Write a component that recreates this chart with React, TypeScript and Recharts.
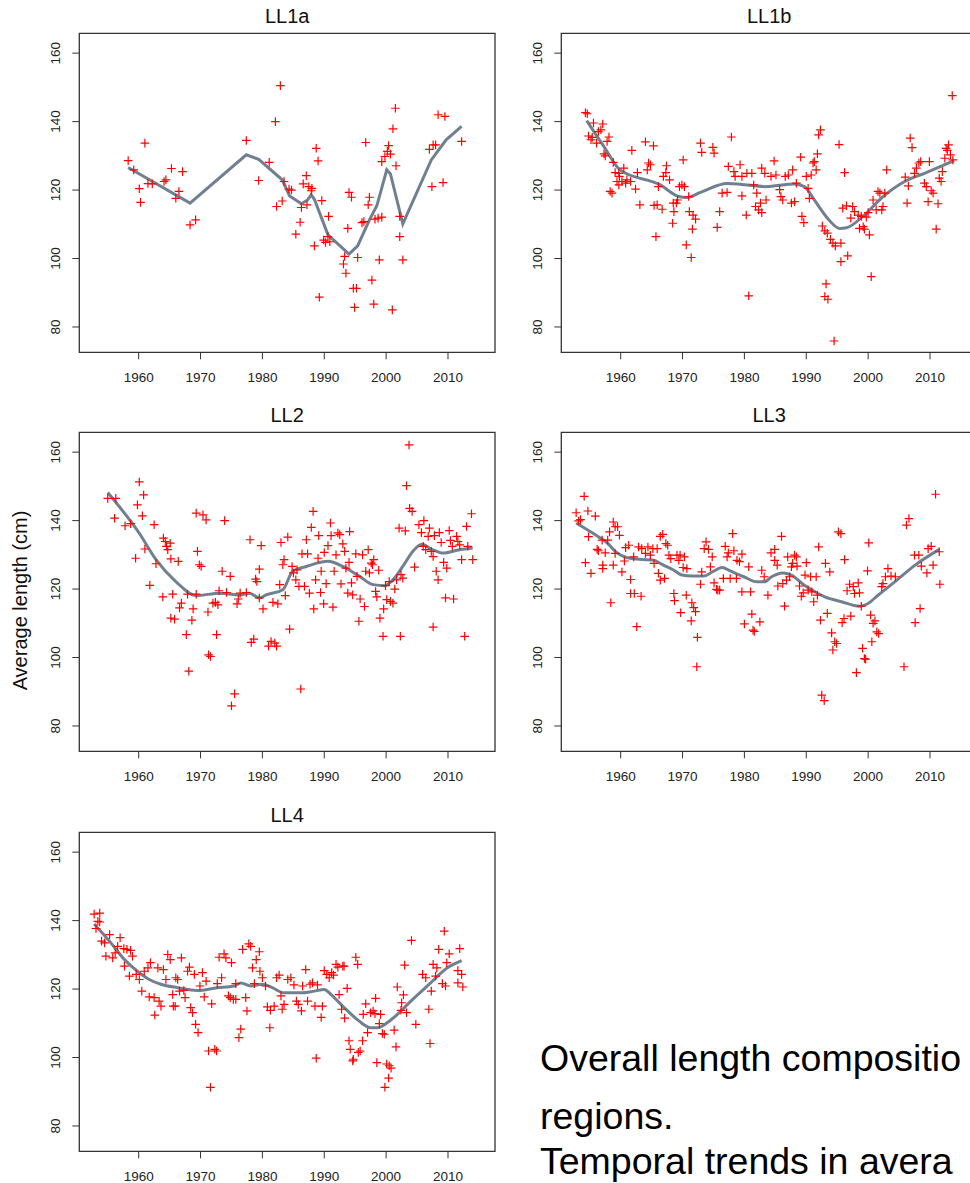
import React from "react";
import {
  ComposedChart,
  Scatter,
  Line,
  XAxis,
  YAxis,
  ReferenceArea,
} from "recharts";

// shared axes (R style, 4% padding around the data range)
const xTicks = [1960, 1970, 1980, 1990, 2000, 2010];
const yTicks = [80, 100, 120, 140, 160];
const xDomain: [number, number] = [1950.4, 2017.6];
const yDomain: [number, number] = [72.6, 165.8];

type Pt = [number, number];

const ll1aPoints: Pt[] = [
  [1958.3, 128.6], [1959.2, 125.9], [1961.0, 133.7], [1960.1, 120.4], [1960.3, 116.4],
  [1961.5, 121.9], [1962.2, 121.8], [1964.1, 122.5], [1964.4, 123.0], [1965.3, 126.3],
  [1966.5, 119.6], [1966.0, 117.6], [1967.1, 125.4], [1968.3, 109.8], [1969.2, 111.3],
  [1977.4, 134.5], [1979.4, 122.8], [1981.1, 128.1], [1982.1, 140.0], [1982.9, 150.5],
  [1982.3, 115.2], [1983.2, 116.8], [1983.5, 122.5], [1984.3, 120.3], [1984.7, 120.0],
  [1985.4, 107.1], [1986.1, 110.6], [1986.3, 114.9], [1986.6, 121.8], [1987.1, 124.2],
  [1987.2, 115.7], [1987.5, 121.0], [1987.9, 119.8], [1988.0, 120.5], [1988.4, 103.7],
  [1988.7, 132.2], [1989.0, 128.5], [1989.2, 88.7], [1989.6, 116.9], [1989.9, 105.4],
  [1990.2, 104.7], [1990.6, 106.4], [1990.7, 112.3], [1990.9, 104.9], [1993.3, 100.6],
  [1993.1, 98.4], [1993.5, 95.7], [1993.8, 108.8], [1994.0, 119.3], [1994.4, 117.9],
  [1994.7, 91.3], [1995.2, 91.3], [1994.9, 85.7], [1995.4, 100.3], [1996.1, 110.5],
  [1996.4, 110.8], [1996.7, 133.9], [1997.1, 115.7], [1997.3, 117.9], [1997.7, 93.7],
  [1998.0, 86.7], [1998.2, 111.5], [1998.7, 111.8], [1998.9, 99.6], [1999.3, 128.3],
  [1999.3, 112.1], [1999.8, 129.8], [2000.2, 131.3], [2000.4, 133.0], [2000.7, 130.5],
  [2001.0, 85.0], [2001.1, 137.9], [2001.5, 143.9], [2001.6, 127.1], [2002.2, 112.3],
  [2002.2, 106.4], [2002.7, 99.6], [2007.0, 131.9], [2007.4, 121.0], [2007.6, 133.2],
  [2008.0, 133.2], [2008.4, 142.0], [2009.2, 122.2], [2009.5, 141.5], [2012.2, 134.2],
];

const ll1aTrend: Pt[] = [
  [1958.3, 126.6], [1968.3, 116.2], [1977.4, 130.3], [1979.4, 129.0], [1983.2, 123.0],
  [1984.4, 118.3], [1986.3, 116.0], [1987.3, 117.1], [1987.9, 118.6], [1988.4, 117.3],
  [1990.6, 106.9], [1994.0, 101.3], [1995.4, 103.7], [1997.3, 111.3], [1998.5, 115.4],
  [2000.1, 125.9], [2000.7, 124.7], [2002.7, 110.1], [2007.3, 128.8], [2009.7, 134.7],
  [2012.2, 138.6],
];

const ll1bPoints: Pt[] = [
  [1954.3, 142.6], [1954.6, 142.3], [1955.6, 139.6], [1957.1, 139.3], [1956.8, 137.6],
  [1956.4, 137.1], [1954.8, 135.8], [1955.4, 135.4], [1955.2, 134.7], [1956.1, 133.7],
  [1958.1, 135.5], [1957.8, 134.2], [1957.3, 130.6], [1957.5, 130.0], [1958.8, 128.1],
  [1958.3, 119.6], [1958.6, 119.1], [1959.1, 125.1], [1959.7, 124.9], [1960.5, 126.4],
  [1959.8, 124.0], [1959.4, 122.5], [1960.2, 122.5], [1961.0, 123.0], [1961.6, 122.5],
  [1960.8, 122.0], [1959.7, 121.5], [1962.4, 120.3], [1961.8, 131.6], [1962.7, 125.1],
  [1963.1, 115.7], [1964.0, 134.1], [1964.3, 125.9], [1964.5, 127.9], [1964.8, 127.4],
  [1965.3, 132.9], [1965.4, 115.5], [1965.9, 115.7], [1965.7, 106.4], [1966.1, 121.0],
  [1966.7, 114.4], [1966.9, 124.0], [1967.4, 127.1], [1967.3, 125.1], [1967.9, 123.0],
  [1968.5, 116.2], [1968.6, 113.7], [1968.4, 110.3], [1969.2, 117.1], [1969.0, 116.2],
  [1969.5, 121.0], [1969.9, 121.5], [1970.3, 121.0], [1970.1, 128.8], [1970.6, 104.0],
  [1971.4, 100.3], [1971.0, 118.1], [1971.1, 113.7], [1971.7, 112.7], [1972.1, 111.5],
  [1971.6, 108.6], [1972.9, 133.7], [1973.1, 131.0], [1974.9, 132.5], [1975.1, 130.8],
  [1976.0, 113.7], [1975.6, 109.1], [1976.4, 119.1], [1977.2, 119.3], [1977.9, 135.5],
  [1977.4, 126.9], [1978.3, 125.4], [1979.3, 127.4], [1978.5, 124.0], [1979.6, 124.0],
  [1980.4, 124.9], [1979.6, 118.3], [1980.3, 112.7], [1980.7, 89.1], [1981.2, 124.9],
  [1982.0, 119.1], [1981.5, 121.5], [1982.8, 126.4], [1981.8, 115.2], [1982.3, 114.2],
  [1982.6, 116.2], [1982.8, 113.4], [1983.3, 124.9], [1983.5, 117.1], [1984.3, 124.0],
  [1984.8, 128.5], [1985.1, 124.4], [1985.7, 120.1], [1985.9, 118.1], [1986.2, 117.1],
  [1986.6, 124.0], [1987.1, 124.4], [1987.6, 116.2], [1988.1, 116.6], [1987.8, 125.9],
  [1988.4, 122.0], [1989.1, 129.6], [1989.3, 112.3], [1989.6, 110.5], [1990.0, 124.0],
  [1990.3, 120.5], [1990.5, 117.6], [1990.8, 124.4], [1991.1, 127.9], [1991.3, 128.3],
  [1991.6, 125.9], [1991.8, 130.6], [1992.0, 136.1], [1992.3, 137.6], [1992.6, 109.5],
  [1993.0, 108.1], [1993.4, 107.4], [1993.9, 105.6], [1994.3, 104.5], [1994.7, 103.7],
  [1995.6, 104.5], [1995.6, 99.1], [1996.7, 100.8], [1993.2, 92.6], [1993.0, 88.9],
  [1993.5, 88.1], [1994.5, 75.9], [1995.3, 133.3], [1996.2, 125.1], [1995.9, 114.7],
  [1996.5, 115.4], [1997.2, 111.8], [1997.5, 115.2], [1997.8, 113.7], [1998.4, 112.7],
  [1998.6, 108.8], [1999.2, 109.3], [1999.4, 108.6], [1998.9, 112.3], [1999.7, 112.1],
  [2000.2, 106.9], [2000.5, 94.7], [2000.0, 113.4], [2000.8, 117.1], [2001.3, 114.2],
  [2001.6, 119.6], [2001.9, 119.1], [2002.4, 115.2], [2002.2, 114.2], [2002.7, 119.1],
  [2003.0, 125.9], [2006.0, 123.8], [2006.3, 116.2], [2006.5, 121.2], [2006.8, 135.2],
  [2007.1, 132.4], [2007.5, 124.9], [2007.8, 126.4], [2008.2, 127.9], [2008.5, 128.3],
  [2009.1, 122.0], [2009.4, 121.0], [2009.7, 116.6], [2010.2, 119.8], [2010.5, 119.1],
  [2009.9, 128.3], [2011.0, 108.6], [2011.3, 116.0], [2011.5, 123.5], [2011.8, 122.5],
  [2012.0, 125.4], [2012.4, 129.3], [2012.6, 132.2], [2013.0, 133.2], [2012.8, 131.6],
  [2013.3, 130.3], [2013.7, 128.8], [2013.6, 147.6],
];

const ll1bTrend: Pt[] = [
  [1954.5, 140.3], [1957.3, 132.7], [1959.9, 125.9], [1966.4, 121.5], [1969.4, 118.1],
  [1970.6, 117.8], [1972.9, 119.3], [1977.2, 121.9], [1979.3, 121.7], [1983.4, 121.0],
  [1988.1, 121.8], [1989.7, 121.0], [1991.3, 117.1], [1993.2, 112.3], [1995.4, 108.8],
  [1996.5, 109.0], [1999.4, 112.7], [2002.1, 117.6], [2005.9, 122.5], [2009.1, 124.9],
  [2013.9, 128.6],
];

const ll2Points: Pt[] = [
  [1955.0, 146.5], [1956.3, 146.5], [1956.1, 140.7], [1957.8, 138.5], [1958.7, 139.1],
  [1959.5, 129.0], [1959.8, 144.6], [1960.1, 151.3], [1960.8, 147.5], [1960.6, 141.4],
  [1961.0, 131.7], [1961.8, 121.1], [1962.5, 138.8], [1962.8, 127.4], [1963.9, 117.7],
  [1964.0, 134.9], [1964.3, 133.9], [1964.5, 132.5], [1964.7, 131.5], [1965.1, 133.4],
  [1965.2, 128.8], [1965.5, 118.5], [1965.2, 111.5], [1965.8, 111.2], [1966.4, 128.1],
  [1966.6, 114.5], [1966.9, 115.9], [1967.7, 106.7], [1968.1, 96.0], [1967.9, 118.5],
  [1968.6, 110.9], [1968.8, 114.2], [1969.3, 118.5], [1969.3, 142.2], [1969.5, 131.0],
  [1969.8, 127.1], [1970.1, 126.6], [1970.4, 141.7], [1970.9, 140.2], [1971.2, 113.3],
  [1971.3, 100.8], [1971.6, 100.3], [1972.0, 115.9], [1972.4, 116.1], [1972.8, 115.4],
  [1972.6, 106.7], [1973.0, 119.5], [1973.5, 125.2], [1973.9, 140.0], [1974.2, 119.0],
  [1974.8, 123.7], [1975.0, 85.9], [1975.5, 89.4], [1975.9, 115.7], [1976.1, 117.1],
  [1976.4, 118.8], [1977.4, 119.0], [1978.0, 134.4], [1978.2, 104.4], [1978.6, 105.4],
  [1978.9, 122.9], [1979.1, 122.2], [1979.8, 132.7], [1979.5, 125.8], [1979.5, 117.4],
  [1980.1, 114.2], [1981.0, 103.3], [1981.4, 104.7], [1981.7, 116.1], [1982.0, 104.2],
  [1982.3, 103.3], [1982.5, 115.7], [1982.8, 121.3], [1983.0, 133.6], [1983.5, 128.6],
  [1983.3, 127.1], [1983.7, 118.1], [1984.1, 135.2], [1984.4, 108.3], [1984.8, 126.6],
  [1985.0, 124.7], [1985.4, 122.7], [1985.6, 125.6], [1985.9, 120.8], [1986.2, 90.8],
  [1986.4, 130.3], [1986.8, 120.8], [1987.1, 134.4], [1987.3, 130.3], [1987.6, 118.8],
  [1987.9, 138.0], [1988.2, 142.7], [1988.3, 114.2], [1988.6, 122.7], [1989.0, 129.0],
  [1989.1, 135.6], [1989.5, 125.2], [1989.4, 119.0], [1989.9, 115.7], [1990.0, 130.7],
  [1990.3, 121.6], [1990.6, 132.7], [1991.0, 139.3], [1991.1, 135.6], [1991.4, 114.7],
  [1991.6, 125.2], [1991.9, 130.0], [1992.2, 136.4], [1992.5, 135.9], [1992.7, 121.5],
  [1993.0, 133.2], [1993.3, 131.0], [1993.5, 126.1], [1993.8, 118.8], [1994.1, 136.8],
  [1994.0, 127.8], [1994.4, 121.8], [1994.6, 118.3], [1995.1, 130.3], [1995.3, 123.7],
  [1995.6, 110.6], [1995.8, 117.1], [1996.2, 130.0], [1996.5, 114.9], [1996.7, 125.2],
  [1997.1, 131.5], [1997.3, 124.7], [1997.6, 127.6], [1997.8, 127.1], [1998.0, 128.6],
  [1998.3, 119.3], [1998.5, 117.7], [1998.8, 125.5], [1999.0, 111.5], [1999.5, 106.2],
  [1999.6, 114.2], [1999.9, 121.0], [2000.1, 116.9], [2000.5, 122.2], [2000.7, 116.4],
  [2001.1, 115.9], [2001.4, 120.0], [2001.7, 122.7], [2002.1, 137.8], [2002.3, 106.2],
  [2002.4, 124.2], [2002.7, 123.2], [2003.1, 137.0], [2003.3, 150.2], [2003.7, 162.1],
  [2003.8, 143.6], [2004.2, 142.7], [2004.6, 126.4], [2005.3, 138.8], [2005.7, 136.5],
  [2006.1, 140.0], [2006.0, 132.5], [2006.4, 131.5], [2006.8, 135.4], [2007.0, 137.8],
  [2007.3, 131.0], [2007.6, 129.5], [2007.6, 108.9], [2007.8, 135.6], [2008.1, 125.2],
  [2008.4, 122.7], [2008.6, 136.5], [2008.9, 133.6], [2009.3, 127.8], [2009.6, 117.4],
  [2009.8, 126.1], [2010.2, 137.1], [2010.4, 134.2], [2010.7, 132.5], [2010.9, 117.1],
  [2011.4, 135.4], [2011.6, 133.9], [2011.9, 132.9], [2012.2, 128.6], [2012.7, 106.2],
  [2013.0, 138.3], [2013.2, 132.5], [2013.8, 142.0], [2014.0, 128.6],
];

const ll2Trend: Pt[] = [
  [1955.0, 148.2], [1960.1, 136.3], [1962.8, 128.6], [1966.0, 122.2], [1969.3, 118.1],
  [1973.1, 118.8], [1976.3, 118.3], [1977.9, 118.8], [1979.5, 117.4], [1980.6, 118.3],
  [1983.3, 119.8], [1984.9, 125.2], [1987.1, 126.6], [1990.6, 128.1], [1993.0, 126.6],
  [1995.7, 123.7], [1997.9, 121.3], [1999.8, 121.0], [2001.1, 122.7], [2002.7, 126.6],
  [2004.3, 131.0], [2005.8, 133.1], [2007.3, 131.7], [2009.2, 130.5], [2011.9, 131.5],
  [2014.0, 132.0],
];

const ll3Points: Pt[] = [
  [1952.8, 142.3], [1954.1, 147.1], [1953.5, 140.3], [1953.2, 139.9], [1954.7, 142.8],
  [1955.9, 141.3], [1954.8, 135.3], [1954.3, 127.7], [1955.2, 124.6], [1956.2, 131.6],
  [1956.4, 131.2], [1957.5, 130.6], [1957.1, 127.0], [1957.1, 126.0], [1957.0, 134.3],
  [1957.9, 134.3], [1958.2, 136.7], [1958.8, 139.6], [1959.1, 138.2], [1959.5, 138.2],
  [1959.8, 135.7], [1958.8, 127.0], [1959.1, 130.4], [1958.4, 116.0], [1960.2, 125.0],
  [1960.8, 132.1], [1961.3, 132.8], [1960.6, 128.2], [1961.6, 122.8], [1961.6, 118.7],
  [1962.2, 118.7], [1962.6, 109.0], [1962.1, 129.4], [1962.9, 132.3], [1963.4, 131.8],
  [1963.3, 117.9], [1964.0, 130.4], [1964.4, 132.3], [1964.8, 129.9], [1965.2, 131.8],
  [1965.4, 127.5], [1965.9, 131.8], [1966.1, 124.6], [1966.4, 135.4], [1966.8, 136.0],
  [1967.1, 123.1], [1966.4, 122.6], [1967.3, 133.3], [1967.6, 132.8], [1967.8, 129.9],
  [1968.1, 128.9], [1968.6, 118.7], [1968.7, 116.6], [1969.1, 129.9], [1969.4, 128.4],
  [1969.6, 129.9], [1969.7, 113.1], [1970.1, 126.3], [1970.3, 129.4], [1970.7, 126.0],
  [1970.6, 118.2], [1971.5, 116.0], [1971.8, 114.6], [1972.1, 113.4], [1971.4, 110.7],
  [1972.4, 105.9], [1972.3, 97.3], [1973.1, 125.0], [1972.9, 121.4], [1973.8, 133.8],
  [1973.5, 131.8], [1974.2, 131.6], [1974.8, 129.4], [1974.5, 126.5], [1975.1, 121.8],
  [1975.5, 119.9], [1975.7, 119.7], [1976.0, 119.7], [1976.6, 123.1], [1976.9, 132.5],
  [1977.2, 129.4], [1977.4, 130.6], [1977.7, 123.1], [1978.1, 136.2], [1978.3, 131.2],
  [1978.7, 123.1], [1978.8, 128.4], [1979.2, 128.0], [1979.6, 130.2], [1979.6, 119.2],
  [1980.0, 109.8], [1980.7, 126.5], [1981.0, 119.2], [1981.2, 112.7], [1981.4, 108.0],
  [1981.6, 107.6], [1982.5, 110.4], [1982.8, 125.5], [1983.2, 123.6], [1983.8, 118.2],
  [1984.3, 130.6], [1984.9, 131.6], [1984.9, 128.4], [1986.0, 135.4], [1985.3, 127.0],
  [1985.4, 120.9], [1986.2, 121.6], [1986.5, 115.0], [1986.8, 122.6], [1987.0, 129.4],
  [1987.3, 123.6], [1987.6, 126.5], [1987.8, 127.5], [1988.1, 129.9], [1988.4, 129.4],
  [1988.5, 126.7], [1988.9, 120.9], [1989.2, 117.9], [1989.5, 118.9], [1990.0, 127.7],
  [1989.8, 124.1], [1990.3, 119.7], [1990.7, 123.6], [1990.9, 119.2], [1991.2, 116.3],
  [1991.6, 123.6], [1991.8, 118.2], [1992.0, 132.3], [1992.3, 110.9], [1992.5, 89.0],
  [1992.9, 87.4], [1993.1, 127.5], [1993.4, 112.9], [1993.8, 125.0], [1994.1, 107.2],
  [1994.3, 102.2], [1994.6, 104.6], [1994.9, 104.1], [1995.2, 136.7], [1995.6, 136.2],
  [1995.8, 110.2], [1996.1, 111.4], [1996.2, 128.6], [1996.6, 119.5], [1997.0, 121.4],
  [1997.2, 112.1], [1997.6, 120.7], [1997.8, 118.7], [1998.1, 95.6], [1998.4, 121.8],
  [1998.6, 118.9], [1998.9, 115.0], [1999.1, 102.7], [1999.4, 99.7], [1999.6, 99.5],
  [1999.9, 125.3], [2000.1, 133.5], [2000.4, 112.4], [2000.8, 110.0], [2001.1, 110.7],
  [2000.6, 104.6], [2001.4, 107.5], [2001.7, 107.0], [2002.2, 120.7], [2002.4, 121.6],
  [2002.8, 123.6], [2003.2, 126.0], [2003.7, 123.8], [2004.4, 123.6], [2005.8, 97.3],
  [2006.2, 138.7], [2006.6, 140.6], [2007.5, 129.9], [2008.2, 129.9], [2007.6, 110.2],
  [2008.4, 114.3], [2008.6, 126.7], [2009.5, 124.7], [2009.7, 131.8], [2010.2, 132.5],
  [2010.5, 127.0], [2010.9, 147.7], [2011.5, 130.9], [2011.6, 121.4],
];

const ll3Trend: Pt[] = [
  [1952.8, 139.3], [1955.6, 136.2], [1957.8, 133.5], [1959.4, 130.6], [1961.8, 128.9],
  [1965.3, 128.4], [1966.9, 127.0], [1968.6, 125.5], [1969.9, 124.1], [1971.5, 123.8],
  [1973.4, 123.8], [1974.8, 125.0], [1976.4, 126.3], [1977.7, 125.3], [1979.9, 123.6],
  [1982.0, 122.1], [1983.2, 122.1], [1984.4, 123.6], [1986.2, 124.7], [1987.6, 124.1],
  [1989.7, 121.1], [1991.4, 119.2], [1993.0, 117.7], [1995.7, 116.3], [1998.6, 115.0],
  [2000.0, 115.8], [2001.6, 118.2], [2004.3, 122.1], [2007.6, 127.0], [2011.5, 131.6],
];

const ll4Points: Pt[] = [
  [1952.8, 141.9], [1953.7, 142.2], [1953.7, 139.6], [1953.4, 139.8], [1953.1, 137.7],
  [1954.0, 134.0], [1954.5, 133.5], [1955.3, 135.9], [1954.7, 129.6], [1955.8, 129.1],
  [1956.2, 130.6], [1957.0, 135.0], [1956.6, 132.5], [1957.6, 131.8], [1958.1, 131.6],
  [1958.7, 131.3], [1959.0, 129.6], [1957.7, 126.7], [1958.5, 123.8], [1959.6, 124.3],
  [1960.1, 122.8], [1960.5, 119.4], [1960.9, 125.2], [1961.5, 126.2], [1961.9, 127.7],
  [1961.7, 117.7], [1962.5, 117.5], [1962.6, 112.4], [1963.1, 126.2], [1963.3, 116.5],
  [1963.6, 115.0], [1964.0, 125.7], [1964.4, 122.8], [1964.7, 130.1], [1965.1, 128.6],
  [1965.5, 118.4], [1965.6, 115.0], [1965.9, 115.0], [1966.0, 123.3], [1966.3, 122.8],
  [1966.9, 129.1], [1966.6, 119.4], [1967.3, 119.6], [1967.5, 117.5], [1967.9, 125.2],
  [1968.2, 126.4], [1968.4, 114.6], [1968.7, 113.1], [1969.0, 124.3], [1969.2, 109.7],
  [1969.6, 107.3], [1969.9, 120.9], [1970.3, 124.8], [1970.6, 117.7], [1970.9, 122.3],
  [1971.3, 101.9], [1971.6, 91.3], [1971.8, 115.7], [1972.3, 102.4], [1972.6, 101.9],
  [1972.7, 121.6], [1973.0, 129.3], [1973.4, 123.3], [1973.8, 130.3], [1974.1, 129.1],
  [1974.5, 118.0], [1974.8, 117.5], [1975.0, 127.7], [1975.3, 117.0], [1975.7, 117.0],
  [1976.2, 105.8], [1976.5, 108.3], [1975.7, 121.6], [1976.8, 131.6], [1977.3, 117.5],
  [1977.5, 113.6], [1977.8, 133.2], [1978.1, 132.5], [1978.4, 126.2], [1978.7, 121.6],
  [1979.0, 128.6], [1979.5, 130.9], [1979.6, 125.2], [1980.0, 123.3], [1980.5, 120.9],
  [1980.8, 114.8], [1981.2, 108.7], [1981.3, 113.8], [1981.9, 115.0], [1982.3, 123.3],
  [1982.7, 124.1], [1983.0, 118.0], [1983.2, 114.1], [1983.5, 115.5], [1984.1, 122.8],
  [1984.6, 123.3], [1985.1, 121.2], [1985.5, 116.5], [1985.8, 115.5], [1986.3, 113.6],
  [1986.5, 120.9], [1987.0, 125.7], [1987.3, 116.5], [1987.7, 121.4], [1988.1, 121.8],
  [1988.5, 115.0], [1988.7, 99.8], [1988.9, 121.2], [1989.5, 111.7], [1989.7, 115.0],
  [1990.0, 125.4], [1990.4, 124.3], [1990.8, 123.3], [1991.2, 124.8], [1991.5, 124.1],
  [1991.9, 127.2], [1992.2, 126.4], [1992.4, 118.4], [1993.0, 126.7], [1993.2, 126.7],
  [1993.7, 120.2], [1992.8, 114.1], [1993.3, 111.5], [1994.0, 104.9], [1994.2, 102.4],
  [1994.6, 99.0], [1994.7, 99.5], [1995.1, 129.3], [1995.4, 127.2], [1995.5, 101.5],
  [1995.8, 101.9], [1996.2, 104.9], [1996.7, 115.7], [1997.0, 107.3], [1996.3, 112.6],
  [1997.5, 113.1], [1997.9, 113.6], [1998.2, 112.8], [1998.3, 117.3], [1998.5, 98.5],
  [1998.9, 109.9], [1999.1, 112.6], [1999.4, 107.0], [1999.7, 106.8], [2000.1, 98.1],
  [2000.5, 97.6], [2000.8, 96.9], [2000.4, 94.0], [1999.8, 91.3], [2001.3, 108.0],
  [2001.6, 103.1], [2001.8, 120.6], [2002.4, 113.8], [2002.5, 116.0], [2002.8, 118.3],
  [2003.0, 127.0], [2003.3, 113.1], [2004.1, 134.2], [2004.8, 109.7], [2005.9, 124.3],
  [2006.4, 123.3], [2006.9, 114.1], [2007.1, 104.1], [2007.3, 119.4], [2007.6, 127.2],
  [2008.2, 126.2], [2008.0, 123.8], [2008.5, 131.6], [2009.1, 121.6], [2009.4, 136.9],
  [2009.6, 120.9], [2010.2, 130.3], [2009.8, 127.7], [2011.6, 121.8], [2011.9, 131.8],
  [2011.6, 125.4], [2012.2, 124.3], [2012.4, 120.6],
];

const ll4Trend: Pt[] = [
  [1952.8, 139.0], [1955.5, 133.5], [1957.7, 128.6], [1959.8, 125.2], [1961.7, 122.8],
  [1963.6, 121.4], [1966.3, 120.4], [1969.5, 119.6], [1972.7, 120.4], [1975.4, 120.9],
  [1976.5, 121.8], [1978.1, 120.9], [1980.0, 121.4], [1981.6, 120.4], [1983.5, 118.9],
  [1986.2, 118.9], [1988.4, 119.4], [1990.0, 119.9], [1991.1, 118.4], [1993.2, 114.6],
  [1995.6, 110.7], [1997.5, 108.7], [1998.6, 108.7], [2000.2, 110.2], [2001.8, 112.6],
  [2004.0, 116.5], [2007.2, 121.8], [2009.9, 126.2], [2012.2, 128.3],
];

// caption lines as far as they are visible in the reference (it is cropped at the right)
const captionLines = [
  "Overall length compositio",
  "regions.",
  "Temporal trends in avera",
];

const FONT = "'Liberation Sans', Arial, Helvetica, sans-serif";

const Cross = (props: any) => {
  const { cx, cy } = props;
  if (cx == null || cy == null) return null;
  const s = 4.3;
  return (
    <path
      d={`M${cx - s},${cy}H${cx + s}M${cx},${cy - s}V${cy + s}`}
      stroke="#ff0000"
      strokeWidth={1.2}
      fill="none"
    />
  );
};

const XTick = (props: any) => {
  const { x, y, payload } = props;
  return (
    <text x={x} y={y + 21} textAnchor="middle" fontSize={13.5} fill="#222" fontFamily={FONT}>
      {payload.value}
    </text>
  );
};

const YTick = (props: any) => {
  const { x, y, payload } = props;
  return (
    <text
      transform={`translate(${x - 10},${y}) rotate(-90)`}
      textAnchor="middle"
      fontSize={13.5}
      fill="#222"
      fontFamily={FONT}
    >
      {payload.value}
    </text>
  );
};

interface PanelProps {
  title: string;
  points: Pt[];
  trend: Pt[];
  left: number;
  top: number;
  smooth?: boolean;
  yLabel?: string;
}

const Panel: React.FC<PanelProps> = ({ title, points, trend, left, top, smooth, yLabel }) => {
  const scatterData = points.map(([x, y]) => ({ x, y }));
  const lineData = trend.map(([x, y]) => ({ x, y }));
  return (
    <div style={{ position: "absolute", left, top, width: 500, height: 399 }}>
      <ComposedChart
        width={500}
        height={399}
        margin={{ top: 33.3, right: 5, bottom: 6.7, left: 29.3 }}
      >
        <XAxis
          type="number"
          dataKey="x"
          domain={xDomain}
          ticks={xTicks}
          interval={0}
          allowDataOverflow
          height={40}
          tickSize={7}
          axisLine={false}
          tickLine={{ stroke: "#333", strokeWidth: 1 }}
          tick={<XTick />}
        />
        <YAxis
          type="number"
          dataKey="y"
          domain={yDomain}
          ticks={yTicks}
          interval={0}
          allowDataOverflow
          width={50}
          tickSize={7}
          axisLine={false}
          tickLine={{ stroke: "#333", strokeWidth: 1 }}
          tick={<YTick />}
        />
        <Scatter data={scatterData} shape={Cross} isAnimationActive={false} />
        <Line
          data={lineData}
          dataKey="y"
          type={smooth ? "monotone" : "linear"}
          stroke="#708090"
          strokeWidth={3}
          dot={false}
          activeDot={false}
          isAnimationActive={false}
        />
        <ReferenceArea
          x1={xDomain[0]}
          x2={xDomain[1]}
          y1={yDomain[0]}
          y2={yDomain[1]}
          fill="none"
          fillOpacity={0}
          stroke="#333"
          strokeWidth={1.3}
          ifOverflow="visible"
        />
      </ComposedChart>
      <svg
        width={500}
        height={399}
        style={{ position: "absolute", left: 0, top: 0, pointerEvents: "none" }}
      >
        <text x={287.2} y={22.7} textAnchor="middle" fontSize={20} fill="#111" fontFamily={FONT}>
          {title}
        </text>
        {yLabel && (
          <text
            transform="translate(27,201.5) rotate(-90)"
            textAnchor="middle"
            fontSize={20}
            fill="#111"
            fontFamily={FONT}
          >
            {yLabel}
          </text>
        )}
      </svg>
    </div>
  );
};

const colX = [0, 481.7];
const rowY = [0, 399.3, 798.6];
const captionY = [71, 129, 174];

export default function App() {
  return (
    <div
      style={{
        position: "absolute",
        left: 0,
        top: 0,
        width: 970,
        height: 1183,
        overflow: "hidden",
        background: "#fff",
      }}
    >
      <Panel title="LL1a" points={ll1aPoints} trend={ll1aTrend} left={colX[0]} top={rowY[0]} />
      <Panel title="LL1b" points={ll1bPoints} trend={ll1bTrend} left={colX[1]} top={rowY[0]} smooth />
      <Panel
        title="LL2"
        points={ll2Points}
        trend={ll2Trend}
        left={colX[0]}
        top={rowY[1]}
        smooth
        yLabel="Average length (cm)"
      />
      <Panel title="LL3" points={ll3Points} trend={ll3Trend} left={colX[1]} top={rowY[1]} smooth />
      <Panel title="LL4" points={ll4Points} trend={ll4Trend} left={colX[0]} top={rowY[2]} smooth />
      <svg
        width={470}
        height={183}
        style={{ position: "absolute", left: 500, top: 1000 }}
      >
        {captionLines.map((line, i) => (
          <text key={i} x={40} y={captionY[i]} fontSize={37.5} fill="#000" fontFamily={FONT}>
            {line}
          </text>
        ))}
      </svg>
    </div>
  );
}
